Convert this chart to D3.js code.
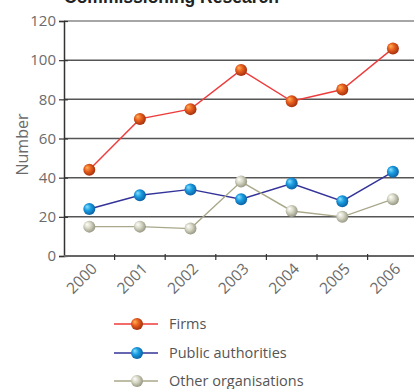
<!DOCTYPE html>
<html>
<head>
<meta charset="utf-8">
<script src="https://cdn.jsdelivr.net/npm/d3@7"></script>
<style>
  html, body { margin: 0; padding: 0; background: #fff; }
  svg { display: block; }
</style>
</head>
<body>
<svg id="chart" width="414" height="389"></svg>
<script>
const years = ["2000", "2001", "2002", "2003", "2004", "2005", "2006"];
const firms = [44, 70, 75, 95, 79, 85, 106];
const publicAuthorities = [24, 31, 34, 29, 37, 28, 43];
const otherOrganisations = [15, 15, 14, 38, 23, 20, 29];
const yTicks = [0, 20, 40, 60, 80, 100, 120];

const seriesNames = ["Firms", "Public authorities", "Other organisations"];
const seriesValues = [firms, publicAuthorities, otherOrganisations];
const lineColors = ["#ee3b3b", "#333399", "#a9a88a"];
const dotStops = [
  ["#ffb35a", "#e8601e", "#9c2a0c"],
  ["#8fe0ff", "#1a9de0", "#0a5a9e"],
  ["#ffffff", "#d8d8c6", "#8f8f7c"]
];

const svg = d3.select("#chart");
const margin = { left: 64, top: 21, bottom: 256 };

const x = d3.scaleBand().domain(years).range([margin.left, margin.left + 7 * 50.6]).padding(0);
const y = d3.scaleLinear().domain([0, 120]).range([margin.bottom, margin.top]);

// sphere gradients for the markers
const defs = svg.append("defs");
dotStops.forEach((stops, i) => {
  const g = defs.append("radialGradient")
    .attr("id", "ball" + i)
    .attr("cx", "0.45").attr("cy", "0.45").attr("r", "0.6")
    .attr("fx", "0.3").attr("fy", "0.3");
  g.append("stop").attr("offset", "0%").attr("stop-color", stops[0]);
  g.append("stop").attr("offset", "45%").attr("stop-color", stops[1]);
  g.append("stop").attr("offset", "100%").attr("stop-color", stops[2]);
});

// title, running off the top edge of the frame
svg.append("text")
  .attr("x", 64).attr("y", 3)
  .attr("font-family", "Liberation Sans, Arial, sans-serif")
  .attr("font-weight", "bold")
  .attr("font-size", 17.5)
  .attr("fill", "#222")
  .text("Commissioning Research");

// horizontal gridlines
svg.append("g")
  .selectAll("line")
  .data(yTicks.filter(d => d > 0))
  .join("line")
  .attr("x1", margin.left).attr("x2", 414)
  .attr("y1", d => y(d)).attr("y2", d => y(d))
  .attr("stroke", d => d === 120 ? "#888" : "#555")
  .attr("stroke-width", 1.5);

// y axis
const yAxis = svg.append("g")
  .attr("transform", `translate(${margin.left},0)`)
  .call(d3.axisLeft(y).tickValues(yTicks).tickSize(5).tickPadding(3));
yAxis.select(".domain").attr("stroke", "#333").attr("stroke-width", 1.5);
yAxis.selectAll(".tick line").attr("stroke", "#333").attr("stroke-width", 1.2).attr("x2", 4).attr("x1", -5);
yAxis.selectAll(".tick text")
  .attr("font-family", "Open Sans, sans-serif")
  .attr("font-size", 15)
  .attr("fill", "#6b6b6b");

// x axis with ticks on category boundaries
const xAxisG = svg.append("g").attr("transform", `translate(0,${margin.bottom})`);
xAxisG.append("line")
  .attr("x1", margin.left).attr("x2", 414)
  .attr("stroke", "#666").attr("stroke-width", 2);
xAxisG.selectAll("line.tk")
  .data(years.slice(1))
  .join("line").attr("class", "tk")
  .attr("x1", d => x(d)).attr("x2", d => x(d))
  .attr("y1", -2).attr("y2", 4)
  .attr("stroke", "#333").attr("stroke-width", 1.2);
xAxisG.selectAll("text")
  .data(years)
  .join("text")
  .attr("transform", d => `translate(${x(d) + x.bandwidth() / 2 + 1},${6}) rotate(-45)`)
  .attr("text-anchor", "end")
  .attr("dy", "0.7em")
  .attr("font-family", "Open Sans, sans-serif")
  .attr("font-size", 15.5)
  .attr("fill", "#6b6b6b")
  .text(d => d);

// y axis title
svg.append("text")
  .attr("transform", `translate(28,${(margin.top + margin.bottom) / 2 + 6}) rotate(-90)`)
  .attr("text-anchor", "middle")
  .attr("font-family", "Open Sans, sans-serif")
  .attr("font-size", 16)
  .attr("fill", "#6b6b6b")
  .text("Number");

// series lines and markers
const cx = d => x(d) + x.bandwidth() / 2;
const line = d3.line().x((v, i) => cx(years[i])).y(v => y(v));

seriesValues.forEach((vals, i) => {
  svg.append("path")
    .datum(vals)
    .attr("d", line)
    .attr("fill", "none")
    .attr("stroke", lineColors[i])
    .attr("stroke-width", 1.4);
});
seriesValues.forEach((vals, i) => {
  svg.append("g")
    .selectAll("circle")
    .data(vals)
    .join("circle")
    .attr("cx", (v, j) => cx(years[j]))
    .attr("cy", v => y(v))
    .attr("r", 6)
    .attr("fill", `url(#ball${i})`);
});

// legend
const legend = svg.append("g");
const legendY = [324, 353, 381];
seriesNames.forEach((name, i) => {
  const g = legend.append("g").attr("transform", `translate(0,${legendY[i]})`);
  g.append("line").attr("x1", 114).attr("x2", 158)
    .attr("stroke", lineColors[i]).attr("stroke-width", 1.6);
  g.append("circle").attr("cx", 137).attr("cy", 0).attr("r", 6)
    .attr("fill", `url(#ball${i})`);
  g.append("text").attr("x", 169).attr("y", 0).attr("dy", "0.35em")
    .attr("font-family", "Open Sans, sans-serif")
    .attr("font-size", 14.5)
    .attr("fill", "#555")
    .text(name);
});
</script>
</body>
</html>
